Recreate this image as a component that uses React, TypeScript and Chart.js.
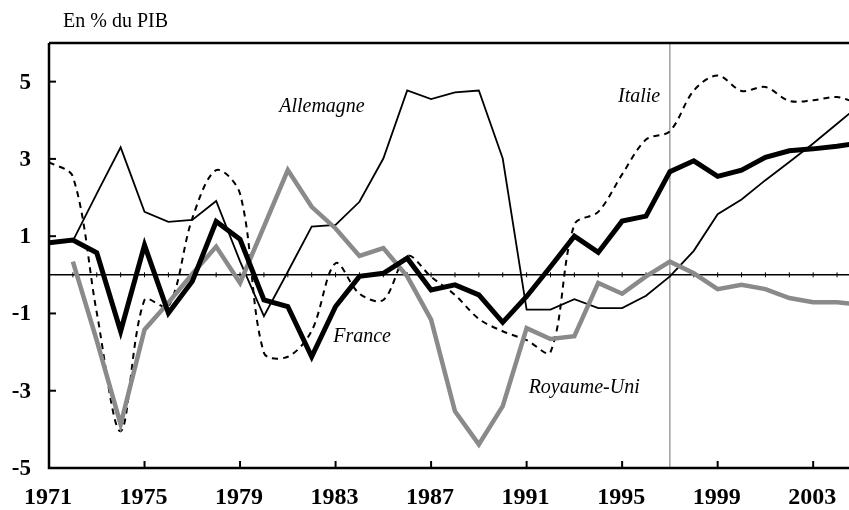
import React, { useEffect, useRef } from "react";
import { Chart, registerables } from "chart.js";

Chart.register(...registerables);

// ---------- data ----------
const years: number[] = [];
for (let y = 1971; y <= 2005; y++) years.push(y);

const france = [0.83, 0.9, 0.57, -1.46, 0.77, -0.99, -0.17, 1.38, 0.92, -0.65, -0.82, -2.12, -0.82, -0.04, 0.04, 0.43, -0.39, -0.26, -0.52, -1.23, -0.56, 0.21, 1.0, 0.58, 1.39, 1.52, 2.67, 2.95, 2.55, 2.71, 3.04, 3.21, 3.26, 3.33, 3.42];
const allemagne = [null, 0.88, 2.1, 3.3, 1.63, 1.37, 1.42, 1.91, 0.35, -1.07, 0.08, 1.25, 1.29, 1.89, 3.01, 4.77, 4.55, 4.72, 4.77, 3.01, -0.9, -0.9, -0.63, -0.86, -0.86, -0.54, -0.04, 0.62, 1.57, 1.95, 2.45, 2.92, 3.4, 3.91, 4.42];
const italie = [2.92, 2.54, -0.98, -4.05, -0.65, -0.82, 1.46, 2.71, 2.1, -2.02, -2.12, -1.45, 0.3, -0.49, -0.65, 0.49, -0.05, -0.52, -1.14, -1.46, -1.69, -2.0, 1.3, 1.63, 2.6, 3.5, 3.72, 4.77, 5.16, 4.76, 4.86, 4.5, 4.52, 4.6, 4.4];
const royaumeUni = [null, 0.34, -1.7, -3.87, -1.42, -0.72, 0.02, 0.73, -0.21, 1.25, 2.71, 1.76, 1.2, 0.49, 0.69, -0.04, -1.16, -3.53, -4.39, -3.4, -1.38, -1.66, -1.59, -0.21, -0.49, -0.04, 0.34, 0.04, -0.37, -0.26, -0.37, -0.6, -0.71, -0.71, -0.78];

const xTicks = [1971, 1975, 1979, 1983, 1987, 1991, 1995, 1999, 2003];
const yTicks = [5, 3, 1, -1, -3, -5];
const markerYear = 1997;
const unitLabel = "En % du PIB";

const seriesLabels = [
  { text: "Allemagne", x: 1982.43, y: 4.36 },
  { text: "Italie", x: 1995.71, y: 4.62 },
  { text: "France", x: 1984.11, y: -1.6 },
  { text: "Royaume-Uni", x: 1993.41, y: -2.92 },
];

const toPoints = (arr: (number | null)[]) =>
  arr.map((v, i) => ({ x: years[i], y: v as any }));

const SERIF = '"Liberation Serif", "Times New Roman", serif';

const decor = {
  id: "decor",
  beforeDatasetsDraw(chart: any) {
    const { ctx, chartArea: a, scales } = chart;
    const xs = scales.x, ys = scales.y;
    ctx.save();
    const y0 = ys.getPixelForValue(0);
    ctx.strokeStyle = "#000";
    ctx.lineWidth = 1.5;
    ctx.beginPath();
    ctx.moveTo(a.left, y0);
    ctx.lineTo(a.right, y0);
    ctx.stroke();
    ctx.lineWidth = 1;
    for (const yr of years) {
      const px = xs.getPixelForValue(yr);
      if (px < a.left || px > a.right) continue;
      ctx.beginPath();
      ctx.moveTo(px, y0 - 2.5);
      ctx.lineTo(px, y0 + 2.5);
      ctx.stroke();
    }
    const vx = xs.getPixelForValue(markerYear);
    ctx.strokeStyle = "#6e6e6e";
    ctx.lineWidth = 1;
    ctx.beginPath();
    ctx.moveTo(vx, a.top);
    ctx.lineTo(vx, a.bottom);
    ctx.stroke();
    ctx.restore();
  },
  afterDatasetsDraw(chart: any) {
    const { ctx, chartArea: a, scales } = chart;
    const xs = scales.x, ys = scales.y;
    ctx.save();
    ctx.strokeStyle = "#000";
    ctx.lineWidth = 2.5;
    ctx.beginPath();
    ctx.moveTo(a.left, a.top);
    ctx.lineTo(a.right + 2, a.top);
    ctx.moveTo(a.left, a.top);
    ctx.lineTo(a.left, a.bottom);
    ctx.lineTo(a.right + 2, a.bottom);
    ctx.stroke();
    ctx.lineWidth = 2;
    for (const t of yTicks) {
      const py = ys.getPixelForValue(t);
      ctx.beginPath();
      ctx.moveTo(a.left, py);
      ctx.lineTo(a.left + 7, py);
      ctx.stroke();
    }
    for (const t of xTicks) {
      const px = xs.getPixelForValue(t);
      ctx.beginPath();
      ctx.moveTo(px, a.bottom);
      ctx.lineTo(px, a.bottom - 7);
      ctx.stroke();
    }
    ctx.fillStyle = "#000";
    ctx.font = `bold 23px ${SERIF}`;
    ctx.textAlign = "right";
    ctx.textBaseline = "middle";
    for (const t of yTicks) {
      ctx.fillText(String(t), a.left - 18, ys.getPixelForValue(t) + 1);
    }
    ctx.font = `bold 24px ${SERIF}`;
    ctx.textAlign = "center";
    for (const t of xTicks) {
      ctx.fillText(String(t), xs.getPixelForValue(t) - 1, a.bottom + 30);
    }
    ctx.font = `20px ${SERIF}`;
    ctx.textAlign = "left";
    ctx.fillText(unitLabel, 63, 22);
    ctx.font = `italic 20px ${SERIF}`;
    ctx.textAlign = "center";
    for (const l of seriesLabels) {
      ctx.fillText(l.text, xs.getPixelForValue(l.x), ys.getPixelForValue(l.y));
    }
    ctx.restore();
  },
};

export default function App() {
  const ref = useRef<HTMLCanvasElement>(null);
  useEffect(() => {
    if (!ref.current) return;
    const chart = new Chart(ref.current, {
      type: "line",
      data: {
        datasets: [
          {
            label: "France",
            data: toPoints(france),
            borderColor: "#000",
            borderWidth: 5,
            pointRadius: 0,
            tension: 0,
            order: 0,
          },
          {
            label: "Royaume-Uni",
            data: toPoints(royaumeUni),
            borderColor: "#8a8a8a",
            borderWidth: 4.5,
            pointRadius: 0,
            tension: 0,
            order: 1,
          },
          {
            label: "Allemagne",
            data: toPoints(allemagne),
            borderColor: "#000",
            borderWidth: 1.8,
            pointRadius: 0,
            tension: 0,
            order: 2,
          },
          {
            label: "Italie",
            data: toPoints(italie),
            borderColor: "#000",
            borderWidth: 2,
            borderDash: [6, 5],
            pointRadius: 0,
            tension: 0.33,
            order: 3,
          },
        ] as any,
      },
      options: {
        animation: false,
        responsive: false,
        devicePixelRatio: 1,
        layout: { padding: { left: 49, right: 0, top: 43, bottom: 42 } },
        plugins: { legend: { display: false }, tooltip: { enabled: false } },
        scales: {
          x: { type: "linear", min: 1971, max: 2004.5, display: false },
          y: { type: "linear", min: -5, max: 6, display: false },
        },
      } as any,
      plugins: [decor],
    });
    return () => chart.destroy();
  }, []);
  return (
    <div style={{ position: "fixed", left: 0, top: 0, width: 849, height: 510, background: "#fff" }}>
      <canvas ref={ref} width={849} height={510} style={{ width: 849, height: 510 }} />
    </div>
  );
}
